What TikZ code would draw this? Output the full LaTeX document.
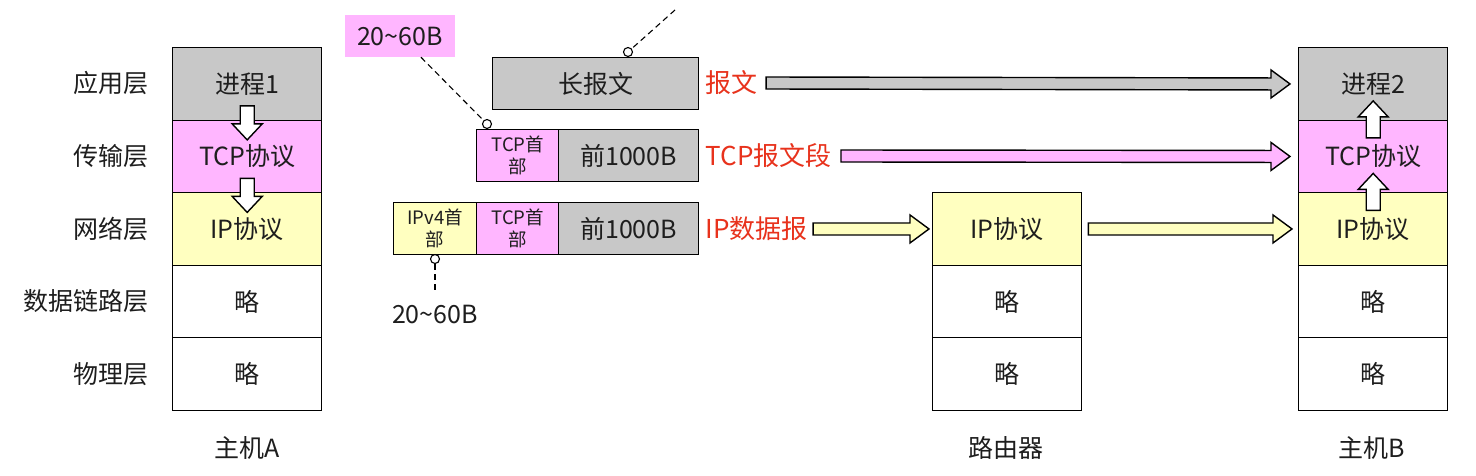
\documentclass[tikz,border=0pt]{standalone}
\usepackage{fontspec}
\setmainfont{Noto Sans CJK SC}
\usetikzlibrary{calc}
\definecolor{cgray}{RGB}{200,200,200}
\definecolor{cpink}{RGB}{255,182,255}
\definecolor{cyel}{RGB}{255,255,192}
\definecolor{cred}{RGB}{232,50,28}
\definecolor{ctext}{RGB}{30,30,30}
\newcommand\harrow[3]{\draw[line width=1.4pt, fill=#1, line join=miter] ($(#2)+(0,-6)$) -- ($(#3)+(-19,-6)$) -- ($(#3)+(-19,-14)$) -- (#3) -- ($(#3)+(-19,14)$) -- ($(#3)+(-19,6)$) -- ($(#2)+(0,6)$) -- cycle;}
\newcommand\blkdown[2]{\draw[line width=1.4pt, fill=white, line join=miter] ($(#1)+(-7,0)$) -- ($(#2)+(-7,-16)$) -- ($(#2)+(-15,-16)$) -- (#2) -- ($(#2)+(15,-16)$) -- ($(#2)+(7,-16)$) -- ($(#1)+(7,0)$) -- cycle;}
\newcommand\blkup[2]{\draw[line width=1.4pt, fill=white, line join=miter] ($(#1)+(-7,0)$) -- ($(#2)+(-7,16)$) -- ($(#2)+(-15,16)$) -- (#2) -- ($(#2)+(15,16)$) -- ($(#2)+(7,16)$) -- ($(#1)+(7,0)$) -- cycle;}
\begin{document}
\begin{tikzpicture}[x=1pt,y=-1pt,
  every node/.style={text=ctext},
  cell/.style={draw=black, line width=1.4pt, minimum width=149pt, minimum height=72.5pt, inner sep=0pt, anchor=north west, font=\fontsize{25}{28}\selectfont},
  pkt/.style={draw=black, line width=1.4pt, minimum height=52pt, inner sep=0pt, anchor=north west, font=\fontsize{25}{28}\selectfont},
  small/.style={font=\fontsize{18.5}{22}\selectfont, align=center},
  layer/.style={anchor=east, font=\fontsize{25}{28}\selectfont},
  redlbl/.style={anchor=west, text=cred, font=\fontsize{26}{29}\selectfont},
  caption/.style={font=\fontsize{25}{28}\selectfont},
  dot/.style={circle, draw=black, line width=1.1pt, fill=white, minimum size=9pt, inner sep=0pt},
  lead/.style={dash pattern=on 6pt off 4pt, line width=1.1pt}
]
\useasboundingbox (0,0) rectangle (1476,475);
\fill[white] (0,0) rectangle (1476,475);

% layer labels
\node[layer] (L1) at (152,83) {应用层};
\node[layer] (L2) at (152,156) {传输层};
\node[layer] (L3) at (152,229) {网络层};
\node[layer] (L4) at (152,301) {数据链路层};
\node[layer] (L5) at (152,374) {物理层};

% host A
\node[cell, fill=cgray] (a1) at (172,47) {进程1};
\node[cell, fill=cpink] (a2) at (172,119.5) {TCP协议};
\node[cell, fill=cyel] (a3) at (172,192) {IP协议};
\node[cell] (a4) at (172,264.5) {略};
\node[cell] (a5) at (172,337) {略};
\node[caption] (capA) at (247,448) {主机A};

% router
\node[cell, fill=cyel] (r3) at (932,192) {IP协议};
\node[cell] (r4) at (932,264.5) {略};
\node[cell] (r5) at (932,337) {略};
\node[caption] (capR) at (1006,448) {路由器};

% host B
\node[cell, fill=cgray] (b1) at (1298,47) {进程2};
\node[cell, fill=cpink] (b2) at (1298,119.5) {TCP协议};
\node[cell, fill=cyel] (b3) at (1298,192) {IP协议};
\node[cell] (b4) at (1298,264.5) {略};
\node[cell] (b5) at (1298,337) {略};
\node[caption] (capB) at (1372,448) {主机B};

% packets
\node[pkt, fill=cgray, minimum width=206pt] (msg) at (492,57) {长报文};
\node[pkt, fill=cpink, minimum width=82pt, small] (th1) at (476,129) {TCP首\\部};
\node[pkt, fill=cgray, minimum width=140pt] (d1) at (558,129) {前1000B};
\node[pkt, fill=cyel, minimum width=83pt, small] (ih) at (393,202) {IPv4首\\部};
\node[pkt, fill=cpink, minimum width=82pt, small] (th2) at (476,202) {TCP首\\部};
\node[pkt, fill=cgray, minimum width=140pt] (d2) at (558,202) {前1000B};

% red labels
\node[redlbl] (rl1) at (702,83) {报文};
\node[redlbl] (rl2) at (702,156) {TCP报文段};
\node[redlbl] (rl3) at (702,229) {IP数据报};

% big arrows
\coordinate (g1s) at ($(rl1.east)+(5,0)$);
\coordinate (g1e) at ($(b1.west)+(-8,0)$);
\harrow{cgray}{g1s}{g1e}
\coordinate (p1s) at ($(rl2.east)+(6,0)$);
\coordinate (p1e) at ($(b2.west)+(-8,0)$);
\harrow{cpink}{p1s}{p1e}
\coordinate (y1s) at ($(rl3.east)+(2,0)$);
\coordinate (y1e) at ($(r3.west)+(-3,0)$);
\harrow{cyel}{y1s}{y1e}
\coordinate (y2s) at ($(r3.east)+(6,0)$);
\coordinate (y2e) at ($(b3.west)+(-6,0)$);
\harrow{cyel}{y2s}{y2e}

% small white arrows
\coordinate (ad1s) at ($(a1.south)+(0,-15)$);
\coordinate (ad1e) at ($(a1.south)+(0,19)$);
\blkdown{ad1s}{ad1e}
\coordinate (ad2s) at ($(a2.south)+(0,-15)$);
\coordinate (ad2e) at ($(a2.south)+(0,19)$);
\blkdown{ad2s}{ad2e}
\coordinate (bu1s) at ($(b1.south)+(0,17)$);
\coordinate (bu1e) at ($(b1.south)+(0,-20)$);
\blkup{bu1s}{bu1e}
\coordinate (bu2s) at ($(b2.south)+(0,17)$);
\coordinate (bu2e) at ($(b2.south)+(0,-20)$);
\blkup{bu2s}{bu2e}

% annotations
\node[fill=cpink, minimum width=110pt, minimum height=42pt, inner sep=0pt, font=\fontsize{25}{28}\selectfont] (sz1) at (400,36) {20\textasciitilde60B};
\node[dot] (c1) at (487,124) {};
\draw[lead] (sz1) -- (c1);
\node[dot] (c2) at (628,52) {};
\coordinate (t2) at (675,10);
\draw[lead] (t2) -- (c2);
\node[dot] (c3) at (435,259) {};
\coordinate (d3) at (435,291);
\draw[lead] (c3) -- (d3);
\node[font=\fontsize{25}{28}\selectfont] (sz2) at (435,314) {20\textasciitilde60B};
\end{tikzpicture}
\end{document}
